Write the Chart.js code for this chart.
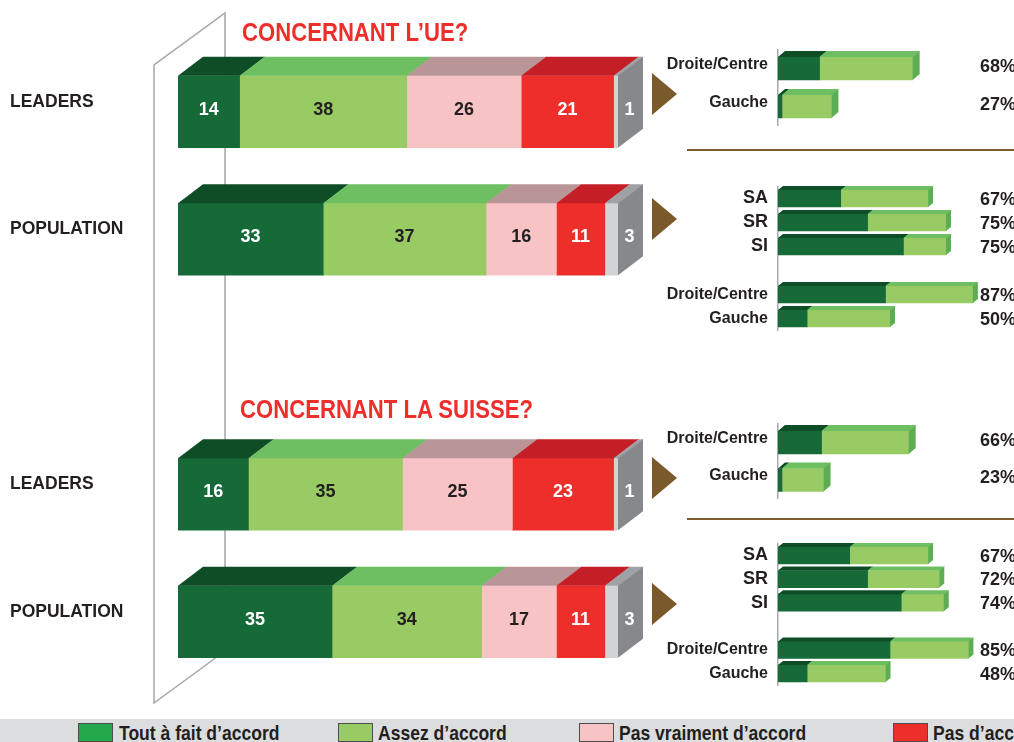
<!DOCTYPE html>
<html lang="fr">
<head>
<meta charset="utf-8">
<title>Concernant l’UE / la Suisse</title>
<script src="https://cdn.jsdelivr.net/npm/chart.js@4.4.1/dist/chart.umd.min.js"></script>
<style>
  html, body { margin: 0; padding: 0; background: #fff; }
  body { width: 1014px; height: 742px; position: relative; overflow: hidden;
         font-family: 'Liberation Sans', Arial, sans-serif; color: #231f20; }
  canvas { position: absolute; }
  #frame { position: absolute; left: 0; top: 0; }
  .title { position: absolute; color: #ee2e2b; font-weight: bold; font-size: 25px; line-height: 25px;
           white-space: nowrap; z-index: 2; transform: scaleX(0.885); transform-origin: 0 0; }
  .arrow { position: absolute; left: 652px; width: 0; height: 0; z-index: 2;
           border-top: 21px solid transparent; border-bottom: 21px solid transparent; border-left: 25px solid #7a5a2b; }
  .sep { position: absolute; left: 687px; width: 327px; height: 2px; background: #7d5c2e; }
  #legend { position: absolute; left: 0; top: 719px; width: 1014px; height: 23px; background: #dcddde; z-index: 3; }
  .box { position: absolute; top: 4px; width: 35px; height: 19px; border: 1px solid #4d4d4f; box-sizing: border-box; }
  .lg { position: absolute; top: 2px; font-weight: bold; font-size: 21px; line-height: 23px; white-space: nowrap;
        transform: scaleX(0.835); transform-origin: 0 0; }
</style>
</head>
<body>
<svg id="frame" width="1014" height="742">
  <g stroke="#a5a7aa" stroke-width="1.5" fill="none">
    <polyline points="225,651 225,13 154,65 154,703 225,651"/>
  </g>
</svg>
<canvas id="main" width="660" height="742" style="left:0;top:0"></canvas>
<canvas id="ueLead" width="354" height="125" style="left:660px;top:25px"></canvas>
<canvas id="uePop" width="354" height="193" style="left:660px;top:162px"></canvas>
<canvas id="chLead" width="354" height="124" style="left:660px;top:399px"></canvas>
<canvas id="chPop" width="354" height="191" style="left:660px;top:519px"></canvas>

<div class="title" style="left:242px;top:20px">CONCERNANT L’UE?</div>
<div class="title" style="left:240px;top:397px">CONCERNANT LA SUISSE?</div>

<div class="arrow" style="top:73px"></div>
<div class="arrow" style="top:198px"></div>
<div class="arrow" style="top:457px"></div>
<div class="arrow" style="top:583px"></div>
<div class="sep" style="top:149px"></div>
<div class="sep" style="top:518px"></div>

<div id="legend">
  <div class="box" style="left:78px;background:#23a84b"></div>
  <div class="lg" style="left:119px">Tout à fait d’accord</div>
  <div class="box" style="left:338px;background:#98cb63"></div>
  <div class="lg" style="left:378px">Assez d’accord</div>
  <div class="box" style="left:579px;background:#f8c3c4"></div>
  <div class="lg" style="left:619px">Pas vraiment d’accord</div>
  <div class="box" style="left:893px;background:#ee2e2b"></div>
  <div class="lg" style="left:933px">Pas d’accord</div>
</div>

<script>
const FONT = "'Liberation Sans', Arial, sans-serif";

// main stacked bars (% of answers)
const rowLabels   = ['LEADERS', 'POPULATION', '', 'LEADERS', 'POPULATION'];
const toutAFait   = [14, 33, null, 16, 35];
const assez       = [38, 37, null, 35, 34];
const pasVraiment = [26, 16, null, 25, 17];
const pasDaccord  = [21, 11, null, 23, 11];
const sansReponse = [1, 3, null, 1, 3];

// detail bars: tout à fait + assez d'accord
const ueLeadLabels = ['Droite/Centre', 'Gauche'];
const ueLeadTout   = [21, 2];
const ueLeadAssez  = [47, 25];
const uePopLabels  = ['SA', 'SR', 'SI', '', 'Droite/Centre', 'Gauche'];
const uePopTout    = [28, 40, 56, null, 48, 13];
const uePopAssez   = [39, 35, 19, null, 39, 37];
const chLeadLabels = ['Droite/Centre', 'Gauche'];
const chLeadTout   = [22, 2];
const chLeadAssez  = [44, 21];
const chPopLabels  = ['SA', 'SR', 'SI', '', 'Droite/Centre', 'Gauche'];
const chPopTout    = [32, 40, 55, null, 50, 13];
const chPopAssez   = [35, 32, 19, null, 35, 35];

function poly(ctx, pts) {
  ctx.beginPath();
  ctx.moveTo(pts[0][0], pts[0][1]);
  for (let k = 1; k < pts.length; k++) ctx.lineTo(pts[k][0], pts[k][1]);
  ctx.closePath();
  ctx.fill();
}

// fake 3d: top face on every segment, side face on the last one
const faces = {
  id: 'faces',
  afterDatasetsDraw(chart, args, opts) {
    const ctx = chart.ctx;
    const n = chart.data.datasets.length;
    ctx.save();
    chart.data.datasets.forEach((ds, di) => {
      chart.getDatasetMeta(di).data.forEach((bar, i) => {
        if (ds.data[i] == null) return;
        const p = bar.getProps(['x', 'y', 'base', 'height'], true);
        const top = p.y - p.height / 2, bot = p.y + p.height / 2;
        ctx.fillStyle = ds.topColor;
        poly(ctx, [[p.base, top], [p.x + 0.5, top], [p.x + opts.dx + 0.5, top - opts.dy], [p.base + opts.dx, top - opts.dy]]);
        if (di === n - 1) {
          ctx.fillStyle = opts.side;
          poly(ctx, [[p.x, top], [p.x + opts.dx, top - opts.dy], [p.x + opts.dx, bot - opts.dy], [p.x, bot]]);
        }
      });
    });
    ctx.restore();
  }
};

const valueLabels = {
  id: 'valueLabels',
  afterDatasetsDraw(chart, args, opts) {
    const ctx = chart.ctx;
    const n = chart.data.datasets.length;
    ctx.save();
    ctx.font = 'bold 18px ' + FONT;
    ctx.textAlign = 'center';
    ctx.textBaseline = 'alphabetic';
    chart.data.datasets.forEach((ds, di) => {
      chart.getDatasetMeta(di).data.forEach((bar, i) => {
        const v = ds.data[i];
        if (v == null) return;
        const p = bar.getProps(['x', 'y', 'base'], true);
        const cx = di === n - 1 ? p.x + opts.dx / 2 - 1 : (p.base + p.x) / 2;
        ctx.fillStyle = ds.labelColor;
        ctx.fillText(String(v), cx, p.y + 3);
      });
    });
    ctx.restore();
  }
};

const totals = {
  id: 'totals',
  afterDatasetsDraw(chart, args, opts) {
    const ctx = chart.ctx;
    const dark = chart.data.datasets[0].data;
    const light = chart.data.datasets[1].data;
    ctx.save();
    ctx.font = 'bold 18px ' + FONT;
    ctx.textAlign = 'right';
    ctx.textBaseline = 'alphabetic';
    ctx.fillStyle = '#231f20';
    chart.getDatasetMeta(1).data.forEach((bar, i) => {
      if (light[i] == null) return;
      ctx.fillText((dark[i] + light[i]) + '%', opts.right, bar.y + 6 + opts.shift);
    });
    ctx.restore();
  }
};

new Chart(document.getElementById('main'), {
  type: 'bar',
  data: {
    labels: rowLabels,
    datasets: [
      { label: 'Tout à fait d’accord', data: toutAFait, backgroundColor: '#166a38', topColor: '#0f4d27', labelColor: '#ffffff' },
      { label: 'Assez d’accord', data: assez, backgroundColor: '#98cb63', topColor: '#6dbf62', labelColor: '#231f20' },
      { label: 'Pas vraiment d’accord', data: pasVraiment, backgroundColor: '#f8c3c4', topColor: '#ba9597', labelColor: '#231f20' },
      { label: 'Pas d’accord', data: pasDaccord, backgroundColor: '#ee2e2b', topColor: '#c41f26', labelColor: '#ffffff' },
      { label: 'Sans réponse', data: sansReponse, backgroundColor: '#d2d3d5', topColor: '#a0a1a5', labelColor: '#ffffff' }
    ]
  },
  options: {
    indexAxis: 'y',
    responsive: false,
    animation: false,
    layout: { padding: { left: 10, top: 48, right: 42, bottom: 56.5 } },
    datasets: { bar: { barThickness: 72, borderWidth: 0 } },
    scales: {
      x: { stacked: true, min: 0, max: 100, display: false },
      y: {
        stacked: true,
        grid: { display: false, drawTicks: false },
        border: { display: false },
        ticks: { autoSkip: false, crossAlign: 'far', color: '#231f20', labelOffset: -10,
                 font: { family: FONT, weight: 'bold', size: 17.5 } },
        afterFit: (a) => { a.width = 168; }
      }
    },
    plugins: {
      legend: { display: false },
      tooltip: { enabled: false },
      faces: { dx: 25, dy: 19, side: '#87888c' },
      valueLabels: { dx: 25 }
    }
  },
  plugins: [faces, valueLabels]
});

function sideChart(id, labels, tout, assezData, o) {
  return new Chart(document.getElementById(id), {
    type: 'bar',
    data: {
      labels: labels,
      datasets: [
        { label: 'Tout à fait d’accord', data: tout, backgroundColor: '#166a38', topColor: '#0f4d27' },
        { label: 'Assez d’accord', data: assezData, backgroundColor: '#98cb63', topColor: '#6dbf62' }
      ]
    },
    options: {
      indexAxis: 'y',
      responsive: false,
      animation: false,
      layout: { padding: { left: 0, top: o.top, bottom: o.bottom, right: o.right } },
      datasets: { bar: { barThickness: o.thick, borderWidth: 0 } },
      scales: {
        x: { stacked: true, min: 0, max: 100, display: false },
        y: {
          stacked: true,
          grid: { display: false, drawTicks: false },
          border: { display: true, color: '#a7a9ac', width: 1.5 },
          ticks: {
            autoSkip: false, padding: 10, color: '#231f20', labelOffset: o.lblShift,
            font: (c) => ({ family: FONT, weight: 'bold', size: c.tick && c.tick.label.length <= 2 ? 18 : 16 })
          },
          afterFit: (a) => { a.width = 118; }
        }
      },
      plugins: {
        legend: { display: false },
        tooltip: { enabled: false },
        faces: { dx: o.dx, dy: o.dy, side: '#5dae52' },
        totals: { right: 356, shift: o.pctShift }
      }
    },
    plugins: [faces, totals]
  });
}

sideChart('ueLead', ueLeadLabels, ueLeadTout, ueLeadAssez,
  { top: 24.5, bottom: 24.5, right: 38, thick: 23, dx: 7, dy: 6, lblShift: -4, pctShift: -3 });
sideChart('uePop', uePopLabels, uePopTout, uePopAssez,
  { top: 24.5, bottom: 24.5, right: 12, thick: 17, dx: 5, dy: 4, lblShift: 0, pctShift: 0 });
sideChart('chLead', chLeadLabels, chLeadTout, chLeadAssez,
  { top: 24.75, bottom: 24.25, right: 38, thick: 23, dx: 7, dy: 6, lblShift: -4, pctShift: -3 });
sideChart('chPop', chPopLabels, chPopTout, chPopAssez,
  { top: 24.7, bottom: 24.7, right: 12, thick: 17, dx: 5, dy: 4, lblShift: 0, pctShift: 0 });
</script>
</body>
</html>
